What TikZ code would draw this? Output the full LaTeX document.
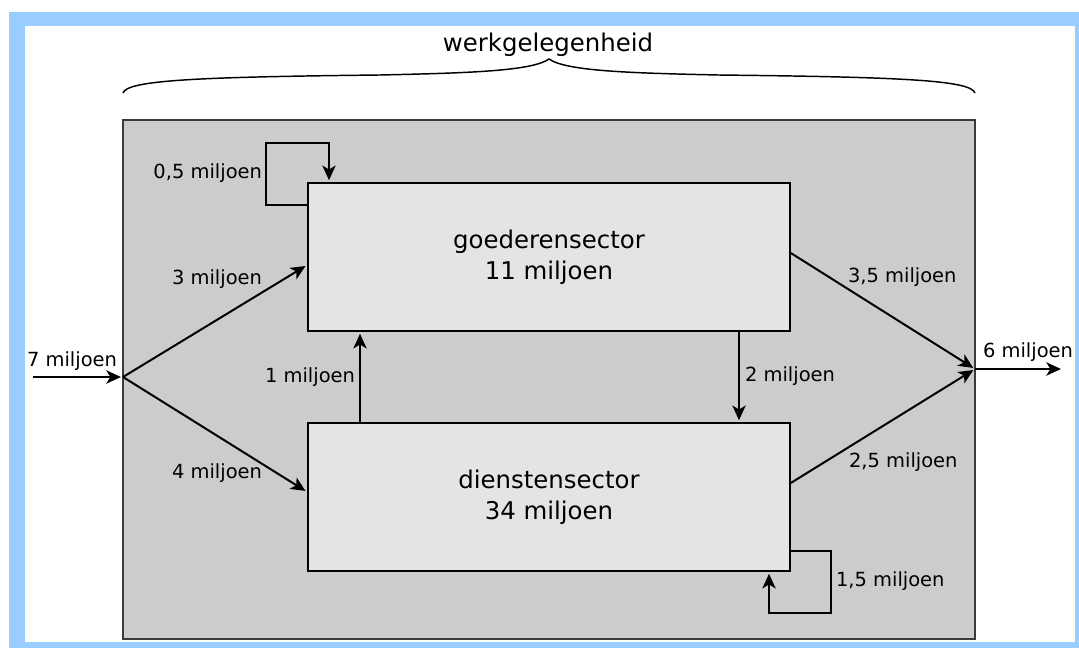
\documentclass[tikz,border=0pt]{standalone}
\usepackage{fontspec}
\setmainfont{DejaVu Sans}
\usetikzlibrary{arrows.meta}
\definecolor{blauw}{HTML}{99CCFF}
\definecolor{achter}{HTML}{CCCCCC}
\definecolor{vak}{HTML}{E4E4E4}
\definecolor{rand}{HTML}{3A3A3A}

\begin{document}
\begin{tikzpicture}[x=0.75pt, y=-0.75pt, line width=1.5pt]
				% Stili coerenti per tutto lo schema
				\tikzset{sector/.style={rectangle, draw, line width=1.2pt, fill=vak, minimum width=361.5pt, minimum height=111pt, inner sep=0pt, align=center, font=\fontsize{18.3}{23.25}\selectfont},
					cijfer/.style={inner sep=0pt, font=\fontsize{14.6}{17}\selectfont},
					pijl/.style={-{Stealth[length=11pt, width=10pt, inset=3pt]}, shorten >=1.5pt}}
				
				% Cornice azzurra
				\useasboundingbox (0,0) rectangle (1079,648);
				\fill[blauw] (9,12) rectangle (1079,648);
				\fill[white] (25,26) rectangle (1075,642);
				
				% Riquadro grigio con i due settori
				\node[rectangle, draw=rand, line width=1pt, fill=achter, minimum width=639pt, minimum height=389.25pt, inner sep=0pt] (kader) at (549,379.5) {};
				\node[sector] (goed) at (549,257) {goederensector\\11 miljoen};
				\node[sector] (dienst) at (549,497) {dienstensector\\34 miljoen};
				
				% Graffa superiore
				\draw[line width=1.1pt] (123,93) .. controls (127,80) and (200,77) .. (380,75) .. controls (470,73) and (532,71) .. (549,59)
					.. controls (566,71) and (628,73) .. (718,75) .. controls (898,77) and (971,80) .. (975,93);
				\node[anchor=base, inner sep=0pt, font=\fontsize{18.3}{22}\selectfont] (titel) at (548,52) {werkgelegenheid};
				
				% Entrata e uscita
				\coordinate (begin) at (33,377);
				\coordinate (split) at (123,377);
				\coordinate (uit) at (975,369);
				\coordinate (eind) at (1063,369);
				
				\draw[pijl] (begin) -- (split);
				\draw[pijl] (split) -- ([yshift=-6pt]goed.west);
				\draw[pijl] (split) -- ([yshift=3.75pt]dienst.west);
				\draw[pijl] ([yshift=3pt]goed.east) -- (uit);
				\draw[pijl] ([yshift=10.5pt]dienst.east) -- (uit);
				\draw[pijl] (uit) -- (eind);
				
				% Flussi tra i settori
				\draw[pijl] ([xshift=-141.75pt]dienst.north) -- ([xshift=-141.75pt]goed.south);
				\draw[pijl] ([xshift=142.5pt]goed.south) -- ([xshift=142.5pt]dienst.north);
				\draw[pijl] ([yshift=39pt]goed.west) -| (266,143) -| ([xshift=-165pt]goed.north);
				\draw[pijl] ([yshift=-40.5pt]dienst.east) -| (831,613) -| ([xshift=165pt]dienst.south);
				
				% Etichette
				\node[cijfer, anchor=base] (l7) at (72,367) {7 miljoen};
				\node[cijfer, anchor=base east] (l05) at (263,179) {0,5 miljoen};
				\node[cijfer, anchor=base east] (l3) at (263,285) {3 miljoen};
				\node[cijfer, anchor=base east] (l4) at (263,479) {4 miljoen};
				\node[cijfer, anchor=base east] (l1) at (356,383) {1 miljoen};
				\node[cijfer, anchor=base west] (l2) at (744,382) {2 miljoen};
				\node[cijfer, anchor=base west] (l35) at (847,283) {3,5 miljoen};
				\node[cijfer, anchor=base west] (l25) at (848,468) {2,5 miljoen};
				\node[cijfer, anchor=base west] (l15) at (835,587) {1,5 miljoen};
				\node[cijfer, anchor=base west] (l6) at (982,358) {6 miljoen};
				
\end{tikzpicture}
\end{document}
